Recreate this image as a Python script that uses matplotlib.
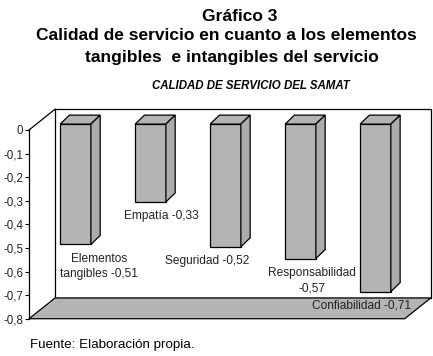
import matplotlib.pyplot as plt
from matplotlib.patches import Polygon

plt.rcParams['font.family'] = ['Liberation Sans', 'DejaVu Sans']

# Data
categories = ['Elementos\ntangibles', 'Empatía', 'Seguridad', 'Responsabilidad\n', 'Confiabilidad']
values = [-0.51, -0.33, -0.52, -0.57, -0.71]
value_labels = ['-0,51', '-0,33', '-0,52', '-0,57', '-0,71']
yticks = [0, -0.1, -0.2, -0.3, -0.4, -0.5, -0.6, -0.7, -0.8]
ytick_labels = ['0', '-0,1', '-0,2', '-0,3', '-0,4', '-0,5', '-0,6', '-0,7', '-0,8']

# label placement (x offset from bar, in bar units)
label_dx = [0.31, 0.14, -0.25, 0.15, -0.19]

BAR_GRAY = '#b4b4b4'
SIDE_GRAY = '#acacac'

fig = plt.figure(figsize=(4.33, 3.56), dpi=100)
ax = fig.add_axes([0, 0, 1, 1])
ax.set_xlim(-1.007, 4.767)
ax.set_ylim(-0.958, 0.551)

# "3D" box: depth offset of the back wall
x0, x1 = -0.62, 4.39
ddx, ddy = 0.347, 0.088
ymin = -0.8

# back wall
ax.add_patch(Polygon([(x0 + ddx, ddy), (x1 + ddx, ddy), (x1 + ddx, ymin + ddy),
                      (x0 + ddx, ymin + ddy)], closed=True, facecolor='white',
                     edgecolor='black', lw=0.9, zorder=1))
# floor
ax.add_patch(Polygon([(x0, ymin), (x0 + ddx, ymin + ddy), (x1 + ddx, ymin + ddy), (x1, ymin)],
                     closed=True, facecolor=BAR_GRAY, edgecolor='black', lw=0.9, zorder=2))
# left wall top edge
ax.plot([x0, x0 + ddx], [0, ddy], color='black', lw=0.9, zorder=2)

# bars
w = 0.41
shift = 0.025
bdx, bdy = 0.124, 0.038
for i, v in enumerate(values):
    xl, xr = i - w / 2, i + w / 2
    top, bot = shift, v + shift
    ax.add_patch(Polygon([(xl, top), (xr, top), (xr, bot), (xl, bot)], closed=True,
                         facecolor=BAR_GRAY, edgecolor='black', lw=0.9, zorder=3))
    ax.add_patch(Polygon([(xl, top), (xl + bdx, top + bdy), (xr + bdx, top + bdy), (xr, top)],
                         closed=True, facecolor=BAR_GRAY, edgecolor='black', lw=0.9, zorder=3))
    ax.add_patch(Polygon([(xr, top), (xr + bdx, top + bdy), (xr + bdx, bot + bdy), (xr, bot)],
                         closed=True, facecolor=SIDE_GRAY, edgecolor='black', lw=0.9, zorder=3))
    name = categories[i]
    if name.endswith('\n'):
        txt = name + value_labels[i]
    else:
        txt = name + ' ' + value_labels[i]
    ax.text(i + label_dx[i], bot - 0.035, txt, ha='center', va='top', fontsize=8.6,
            color='#222222', linespacing=1.4, zorder=4)

# y axis on the front plane
for s in ['top', 'right', 'bottom']:
    ax.spines[s].set_visible(False)
ax.spines['left'].set_position(('data', x0))
ax.spines['left'].set_bounds(ymin, 0)
ax.spines['left'].set_linewidth(0.9)
ax.set_yticks(yticks)
ax.set_yticklabels(ytick_labels, fontsize=8.3, color='#222222')
ax.tick_params(axis='y', length=3, width=0.8, pad=1.0)
ax.set_xticks([])

fig.text(0.554, 0.955, 'Gráfico 3', ha='center', va='center', fontsize=12.5, fontweight='bold')
fig.text(0.522, 0.901, 'Calidad de servicio en cuanto a los elementos', ha='center', va='center',
         fontsize=12.5, fontweight='bold')
fig.text(0.536, 0.838, 'tangibles  e intangibles del servicio', ha='center', va='center',
         fontsize=12.5, fontweight='bold')
fig.text(0.580, 0.758, 'CALIDAD DE SERVICIO DEL SAMAT', ha='center', va='center',
         fontsize=8.3, fontweight='bold', fontstyle='italic')
fig.text(0.069, 0.031, 'Fuente: Elaboración propia.', ha='left', va='center', fontsize=9.6)

fig.savefig('out.png', dpi=100)
